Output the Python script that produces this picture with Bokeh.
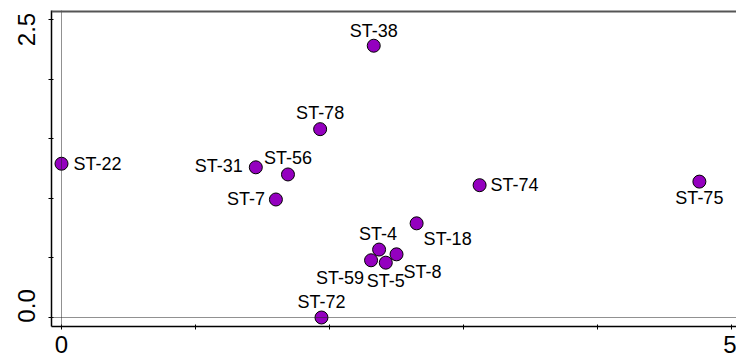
from bokeh.plotting import figure
from bokeh.models import ColumnDataSource, Range1d, FixedTicker, Span, LinearAxis
from bokeh.embed import file_html
from bokeh.resources import INLINE

# ---- data ----
names = ["ST-38", "ST-78", "ST-22", "ST-31", "ST-56", "ST-7", "ST-74", "ST-75",
         "ST-18", "ST-4", "ST-8", "ST-59", "ST-5", "ST-72"]
xs = [2.33, 1.93, 0.00, 1.45, 1.69, 1.60, 3.12, 4.76, 2.65, 2.37, 2.50, 2.31, 2.42, 1.94]
ys = [2.28, 1.58, 1.29, 1.26, 1.20, 0.99, 1.11, 1.14, 0.79, 0.57, 0.53, 0.48, 0.46, 0.00]
x_ticks = [0, 1, 2, 3, 4, 5]
x_tick_labels = {0: "0", 5: "5"}
y_ticks = [0.0, 0.5, 1.0, 1.5, 2.0, 2.5]
y_label_values = [0.0, 2.5]
y_label_texts = ["0.0", "2.5"]

# ---- label placement (style: alignment and pixel offsets) ----
label_align = ["center", "center", "left", "right", "center", "right", "left", "center",
               "left", "center", "left", "right", "center", "center"]
label_dx = [0, 0, 12, -13, 0, -11, 11, 0, 7, -1, 7, -7, 0, 0]
label_dy = [-15, -16, 0, -1, -16, 0, 0, 16, 16, -16, 18, 18, 18, -16]
# y tick labels sit nudged inward (data units) as in the reference
y_label_nudge = [0.097, -0.084]

FONT = "Liberation Sans"

p = figure(width=736, height=362, output_backend="svg", toolbar_location=None,
           x_range=Range1d(-0.0746, 5.037), y_range=Range1d(-0.0755, 2.5755),
           min_border_left=51, min_border_right=0, min_border_top=10, min_border_bottom=36)
p.grid.visible = False
p.outline_line_color = None
p.background_fill_color = "white"

# axes
p.xaxis.ticker = FixedTicker(ticks=x_ticks)
p.xaxis.major_label_overrides = {t: x_tick_labels.get(t, "") for t in x_ticks}
p.yaxis.ticker = FixedTicker(ticks=y_ticks)
p.yaxis.major_label_overrides = {t: "" for t in y_ticks}
for ax in (p.xaxis, p.yaxis):
    ax.minor_tick_line_color = None
    ax.axis_line_color = "black"
    ax.axis_line_width = 1.5
    ax.major_tick_line_color = "black"
    ax.major_tick_line_width = 1
    ax.major_tick_out = 3
    ax.major_tick_in = 2
    ax.major_label_text_font = FONT
    ax.major_label_text_color = "black"
p.xaxis.major_label_text_font_size = "24px"
p.xaxis.major_label_standoff = 6
p.yaxis.major_label_text_font_size = "1px"
p.yaxis.major_label_standoff = 0

# second left axis carrying only the rotated y tick labels
lab_pos = [v + n for v, n in zip(y_label_values, y_label_nudge)]
lab_axis = LinearAxis(ticker=FixedTicker(ticks=lab_pos),
                      major_label_overrides={pos: t for pos, t in zip(lab_pos, y_label_texts)},
                      axis_line_color=None, major_tick_line_color=None,
                      minor_tick_line_color=None, major_label_orientation="vertical",
                      major_label_standoff=7, major_label_text_font=FONT,
                      major_label_text_font_size="24px", major_label_text_color="black")
p.add_layout(lab_axis, "left")

# reference lines and top border
p.add_layout(Span(location=0, dimension="height", line_color="#222222",
                  line_dash="1 1", line_width=1))
p.add_layout(Span(location=0, dimension="width", line_color="#222222",
                  line_dash="1 1", line_width=1))
p.add_layout(Span(location=2.5755, dimension="width", line_color="#555555",
                  line_width=4))

src = ColumnDataSource(dict(x=xs, y=ys))
p.scatter("x", "y", source=src, size=13, fill_color="#9400BF",
          line_color="black", line_width=1)

for a in ("left", "right", "center"):
    idx = [i for i, v in enumerate(label_align) if v == a]
    s = ColumnDataSource(dict(x=[xs[i] for i in idx], y=[ys[i] for i in idx],
                              name=[names[i] for i in idx],
                              dx=[label_dx[i] for i in idx],
                              dy=[label_dy[i] for i in idx]))
    p.text("x", "y", text="name", source=s, x_offset="dx", y_offset="dy",
           text_align=a, text_baseline="middle", text_font_size="18px",
           text_font={"value": FONT}, text_color="black")

open("out.html", "w").write(file_html(p, INLINE))
